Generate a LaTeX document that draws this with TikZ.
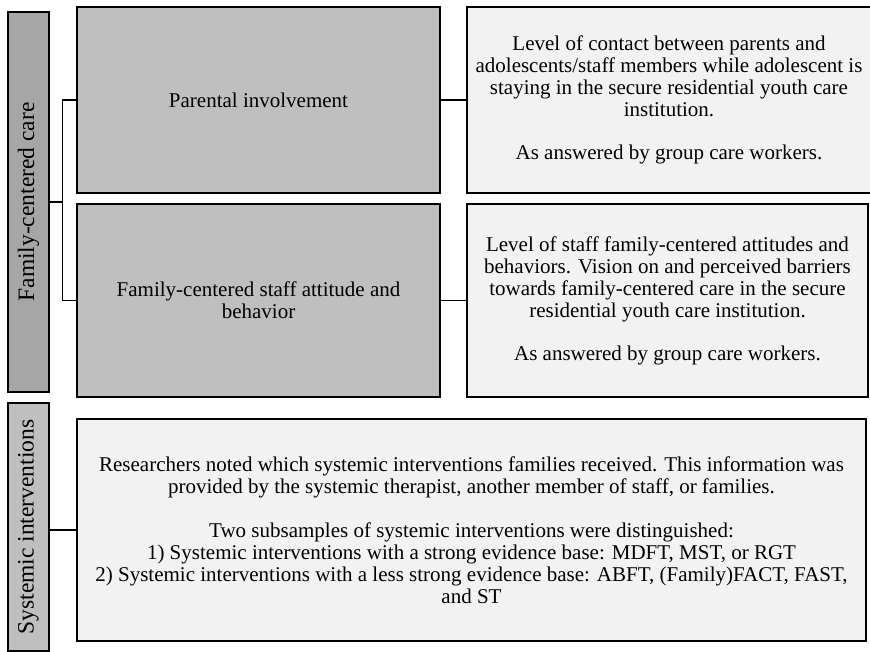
\documentclass[tikz,border=0pt]{standalone}
\usepackage{fontspec}
\setmainfont{Liberation Serif}
\definecolor{bardark}{HTML}{A6A6A6}
\definecolor{boxgray}{HTML}{BFBFBF}
\definecolor{boxlight}{HTML}{F2F2F2}

\begin{document}
\begin{tikzpicture}[x=1pt,y=-1pt,
  every node/.style={draw,line width=1.2pt,inner sep=0pt,align=center,
    font=\fontsize{21}{22}\selectfont},
  bar/.style={rotate=90,minimum height=41pt,font=\fontsize{23.5}{25}\selectfont},
  item/.style={fill=boxgray,minimum width=363pt},
  descr/.style={fill=boxlight},
  link/.style={line width=1.2pt}]
  \useasboundingbox (0,0) rectangle (870,652);
  % left labels
  \node[bar,fill=bardark,minimum width=380pt] (fcc) at (28.5,202) {Family-centered care};
  \node[bar,fill=boxgray,minimum width=248pt] (si) at (28.5,527) {Systemic interventions};
  % family-centered care
  \node[item,minimum height=186pt] (pi) at (258.5,100) {Parental involvement};
  \node[item,minimum height=193pt] (fs) at (258.5,300.5) {Family-centered staff attitude and\\behavior};
  \node[descr,minimum width=404pt,minimum height=186pt] (pid) at (669,100)
    {Level of contact between parents and\\adolescents/staff members while adolescent is\\staying in the secure residential youth care\\institution.\\[21pt]As answered by group care workers.};
  \node[descr,minimum width=401pt,minimum height=193pt] (fsd) at (667.5,300.5)
    {Level of staff family-centered attitudes and\\behaviors. Vision on and perceived barriers\\towards family-centered care in the secure\\residential youth care institution.\\[21pt]As answered by group care workers.};
  % systemic interventions
  \node[descr,minimum width=789pt,minimum height=222pt] (sid) at (471.5,530)
    {Researchers noted which systemic interventions families received. This information was\\provided by the systemic therapist, another member of staff, or families.\\[22pt]Two subsamples of systemic interventions were distinguished:\\1) Systemic interventions with a strong evidence base: MDFT, MST, or RGT\\2) Systemic interventions with a less strong evidence base: ABFT, (Family)FACT, FAST,\\and ST};
  % connectors
  \draw[link] (fcc.south) -- ++(13,0) coordinate (j1);
  \draw[link] (pi.west) -- (pi.west -| j1) -- (fs.west -| j1) -- (fs.west);
  \draw[link] (pi) -- (pid);
  \draw[link] (fs) -- (fsd);
  \draw[link] (sid.west) -- (sid.west -| si.south);
\end{tikzpicture}
\end{document}
